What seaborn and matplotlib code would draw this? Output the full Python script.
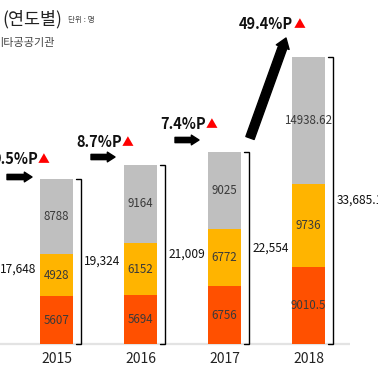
import numpy as np
import matplotlib
matplotlib.use("Agg")
import matplotlib.pyplot as plt
import seaborn as sns

# ---------------------------------------------- data ----------------------------------------------
years = ["2015", "2016", "2017", "2018"]
bottom_vals = [5607, 5694, 6756, 9010.5]      # red
middle_vals = [4928, 6152, 6772, 9736]        # orange
top_vals = [8788, 9164, 9025, 14938.62]       # gray

total_labels = ["17,648", "19,324", "21,009", "22,554", "33,685.1"]
total_vals = [17648, 19324, 21009, 22554, 33685.1]
growth_labels = ["9.5%P", "8.7%P", "7.4%P", "49.4%P"]

c_red, c_orange, c_gray = "#FF5000", "#FFB400", "#BFBFBF"

sns.set_style("white")
plt.rcParams["font.family"] = ["Noto Sans CJK KR", "DejaVu Sans"]

K = 117.3  # units per pixel (vertical)
def py(p):  # pixel from top -> data y
    return (344 - p) * K
def px(p):  # pixel from left -> category x
    return (p - 56.5) / 84
def fmt(v):
    return ("%.2f" % v).rstrip("0").rstrip(".")

fig = plt.figure(figsize=(3.78, 3.79), dpi=100)
ax = fig.add_axes([0, 0, 1, 1])

b = np.array(bottom_vals)
m = np.array(middle_vals)
t = np.array(top_vals)
stack_top = b + m + t

# stacked bars drawn as overlaid cumulative bars
for vals, col in [(stack_top, c_gray), (b + m, c_orange), (b, c_red)]:
    sns.barplot(x=years, y=vals, color=col, saturation=1, width=0.393,
                linewidth=0, edgecolor="none", ax=ax)

ax.set_xlim(px(0), px(378))
ax.set_ylim(py(379), py(0))
ax.set_axis_off()

# baseline
ax.plot([px(0), px(350)], [0, 0], color="#E3E3E3", lw=1.6, zorder=0, solid_capstyle="butt")

# segment values
for i in range(len(years)):
    for bot, v in [(0, b[i]), (b[i], m[i]), (b[i] + m[i], t[i])]:
        ax.text(i, bot + v / 2, fmt(v), ha="center", va="center", fontsize=8.3, color="#3a3a3a")
    ax.text(i, py(359), years[i], ha="center", va="center", fontsize=10, color="#222222")
    # bracket
    xr = i + 0.29
    ax.plot([xr - 0.06, xr, xr, xr - 0.06], [stack_top[i], stack_top[i], 0, 0],
            color="black", lw=1.0, solid_joinstyle="miter")

# total labels (previous year to the left of 2015)
for k, (lab, v) in enumerate(zip(total_labels, total_vals)):
    ax.text(k - 1 + 0.33, v / 2, lab, ha="left", va="center", fontsize=8.6, color="#111111")

# growth labels and arrows
g_x = [-8, 76, 160, 239]
g_y = [159, 142, 124, 24]
for lab, gx, gy in zip(growth_labels, g_x, g_y):
    tx = ax.text(px(gx), py(gy), lab, ha="left", va="center", fontsize=10.5,
                 fontweight="bold", color="#111111")
    ax.annotate("▲", xy=(1, 0.45), xycoords=tx, ha="left", va="center",
                fontsize=8.5, color="#FF0000")

arrows = [((7, 177), (32, 177)), ((91, 157), (115, 157)), ((175, 140), (199, 140))]
for (x0, y0), (x1, y1) in arrows:
    ax.annotate("", xy=(px(x1), py(y1)), xytext=(px(x0), py(y0)),
                arrowprops=dict(arrowstyle="simple,head_length=0.55,head_width=0.7,tail_width=0.38",
                                color="black", mutation_scale=10, shrinkA=0, shrinkB=0))
ax.annotate("", xy=(px(286), py(38)), xytext=(px(250), py(138)),
            arrowprops=dict(arrowstyle="simple,head_length=0.5,head_width=0.7,tail_width=0.45",
                            color="black", mutation_scale=14, shrinkA=0, shrinkB=0))

# title bits (cropped at left edge)
fig.text(2 / 378, 1 - 19 / 379, "(연도별)", ha="left", va="center", fontsize=12.5, color="#222222")
fig.text(68 / 378, 1 - 20 / 379, "단위 : 명", ha="left", va="center", fontsize=5.5, color="#444444")
fig.text(55 / 378, 1 - 43 / 379, "기타공공기관", ha="right", va="center", fontsize=8, color="#444444")

fig.savefig("out.png", dpi=100)
